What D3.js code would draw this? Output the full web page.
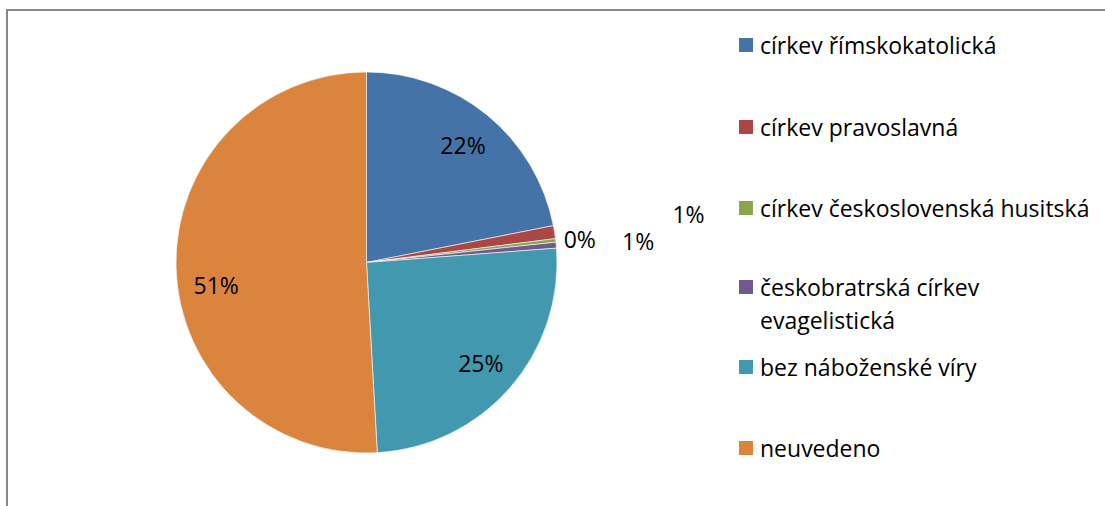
<!DOCTYPE html>
<html>
<head>
<meta charset="utf-8">
<script src="https://cdn.jsdelivr.net/npm/d3@7"></script>
<style>
  body { margin: 0; background: #fff; }
  text { font-family: 'Open Sans', sans-serif; fill: #000; }
</style>
</head>
<body>
<div id="chart"></div>
<script>
let categories = [
  'církev římskokatolická',
  'církev pravoslavná',
  'církev československá husitská',
  'českobratrská církev evagelistická',
  'bez náboženské víry',
  'neuvedeno'
]
let values = [21.9, 1.1, 0.3, 0.5, 25.3, 50.9]
let labels = ['22%', '1%', '0%', '1%', '25%', '51%']
let colors = ['#4572A7', '#AA4643', '#89A54E', '#71588F', '#4198AF', '#DB843D']
// legend text split into lines
let legendLines = [
  ['církev římskokatolická'],
  ['církev pravoslavná'],
  ['církev československá husitská'],
  ['českobratrská církev', 'evagelistická'],
  ['bez náboženské víry'],
  ['neuvedeno']
]

let width = 1105
let height = 506
let radius = 190.5
let cx = 366.5
let cy = 262.5

let svg = d3
  .select('#chart')
  .append('svg')
  .attr('width', width)
  .attr('height', height)

// chart area border (clipped at right & bottom)
svg
  .append('rect')
  .attr('x', 7)
  .attr('y', 10)
  .attr('width', width + 20)
  .attr('height', height + 20)
  .attr('fill', 'none')
  .attr('stroke', '#878787')
  .attr('stroke-width', 2)

let data = categories.map((c, i) => ({ name: c, value: values[i], label: labels[i], i: i }))

let pie = d3.pie().sort(null).value(d => d.value)
let arcs = pie(data)

let arc = d3.arc().innerRadius(0).outerRadius(radius)

let g = svg.append('g').attr('transform', 'translate(' + cx + ',' + cy + ')')

g.selectAll('path')
  .data(arcs)
  .enter()
  .append('path')
  .attr('d', arc)
  .attr('fill', d => colors[d.data.i])
  .attr('stroke', '#fff')
  .attr('stroke-width', 0.6)

// small slices get their labels pushed outside, Excel style
let outsideOffset = {
  1: [134, -18],
  2: [24, -1],
  3: [82, -4]
}
let angleShift = { 5: -0.12 }

function labelPos(d) {
  let off = outsideOffset[d.data.i]
  let a = (d.startAngle + d.endAngle) / 2
  if (off) {
    return [Math.sin(a) * radius + off[0], -Math.cos(a) * radius + off[1]]
  }
  a += angleShift[d.data.i] || 0
  return [Math.sin(a) * 152, -Math.cos(a) * 152]
}

g.selectAll('.pct')
  .data(arcs)
  .enter()
  .append('text')
  .attr('class', 'pct')
  .attr('font-size', 23)
  .attr('text-anchor', 'middle')
  .attr('dominant-baseline', 'central')
  .attr('x', d => labelPos(d)[0])
  .attr('y', d => labelPos(d)[1])
  .text(d => d.data.label)

// legend
let legendY = [45, 127, 208, 287, 367, 448]
let legend = svg
  .selectAll('.legend')
  .data(data)
  .enter()
  .append('g')
  .attr('class', 'legend')
  .attr('transform', (d, i) => 'translate(739,' + legendY[i] + ')')

legend
  .append('rect')
  .attr('x', 0)
  .attr('y', -7)
  .attr('width', 14)
  .attr('height', 14)
  .attr('fill', d => colors[d.i])

legend
  .append('text')
  .attr('x', 21)
  .attr('font-size', 23)
  .attr('dominant-baseline', 'central')
  .selectAll('tspan')
  .data(d => legendLines[d.i])
  .enter()
  .append('tspan')
  .attr('x', 21)
  .attr('dy', (d, i) => (i === 0 ? 0 : 33))
  .text(d => d)
</script>
</body>
</html>
